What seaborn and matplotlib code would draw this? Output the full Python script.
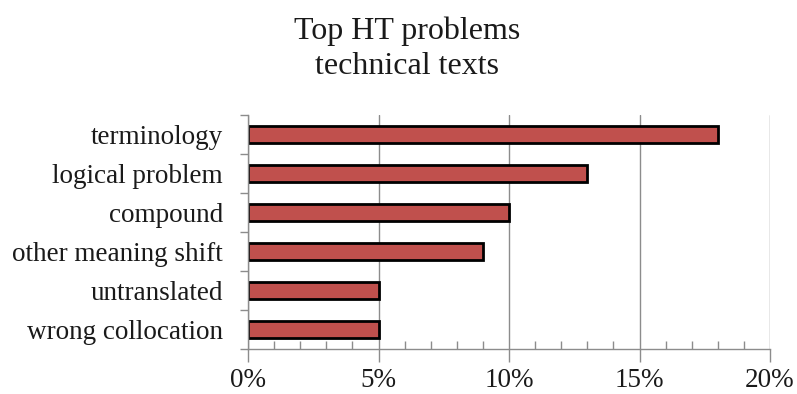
import matplotlib
matplotlib.use("Agg")
import matplotlib.pyplot as plt
from matplotlib.ticker import MultipleLocator, PercentFormatter
import seaborn as sns
import pandas as pd

categories = ["terminology", "logical problem", "compound",
              "other meaning shift", "untranslated", "wrong collocation"]
shares = [18, 13, 10, 9, 5, 5]  # percent of all problems
x_ticks = [0, 5, 10, 15, 20]

df = pd.DataFrame({"problem": categories, "share": shares})

sns.set_theme(style="white")
plt.rcParams["font.family"] = ["Liberation Serif", "DejaVu Serif"]

fig = plt.figure(figsize=(7.97, 3.94), dpi=100)
ax = fig.add_axes([248 / 797, 1 - 349 / 394, (770 - 248) / 797, (349 - 115) / 394])

sns.barplot(data=df, x="share", y="problem", orient="h", color="#C0504D",
            edgecolor="black", linewidth=2, width=0.42, saturation=1, ax=ax)

grid_c = "#8C8C8C"
ax.set_xlim(0, 20)
ax.set_ylim(5.5, -0.5)
ax.set_xticks(x_ticks)
ax.xaxis.set_major_formatter(PercentFormatter(decimals=0))
ax.xaxis.set_minor_locator(MultipleLocator(1))
ax.grid(axis="x", which="major", color=grid_c, linewidth=1)
ax.set_axisbelow(True)

ax.tick_params(axis="x", which="major", direction="out", length=9, width=1,
               color=grid_c, labelsize=19.5, pad=5, bottom=True)
ax.tick_params(axis="x", which="minor", direction="in", length=6, width=1,
               color=grid_c, bottom=True)

# category boundaries carry the y tick marks
ax.set_yticks(range(len(categories)))
ax.set_yticklabels(categories)
ax.set_yticks([i - 0.5 for i in range(len(categories) + 1)], minor=True)
ax.tick_params(axis="y", which="major", length=0, labelsize=19.5, pad=18)
ax.tick_params(axis="y", which="minor", direction="out", length=6, width=1,
               color=grid_c, left=True)

ax.set_xlabel("")
ax.set_ylabel("")
for side in ["top", "right"]:
    ax.spines[side].set_visible(False)
for side in ["left", "bottom"]:
    ax.spines[side].set_color(grid_c)
    ax.spines[side].set_linewidth(1)

fig.text(407 / 797, 1 - 49 / 394, "Top HT problems\ntechnical texts",
         ha="center", va="center", fontsize=23, linespacing=1.27, color="#1a1a1a")
for lbl in ax.get_xticklabels() + ax.get_yticklabels():
    lbl.set_color("#1a1a1a")

fig.savefig("out.png", dpi=100)
